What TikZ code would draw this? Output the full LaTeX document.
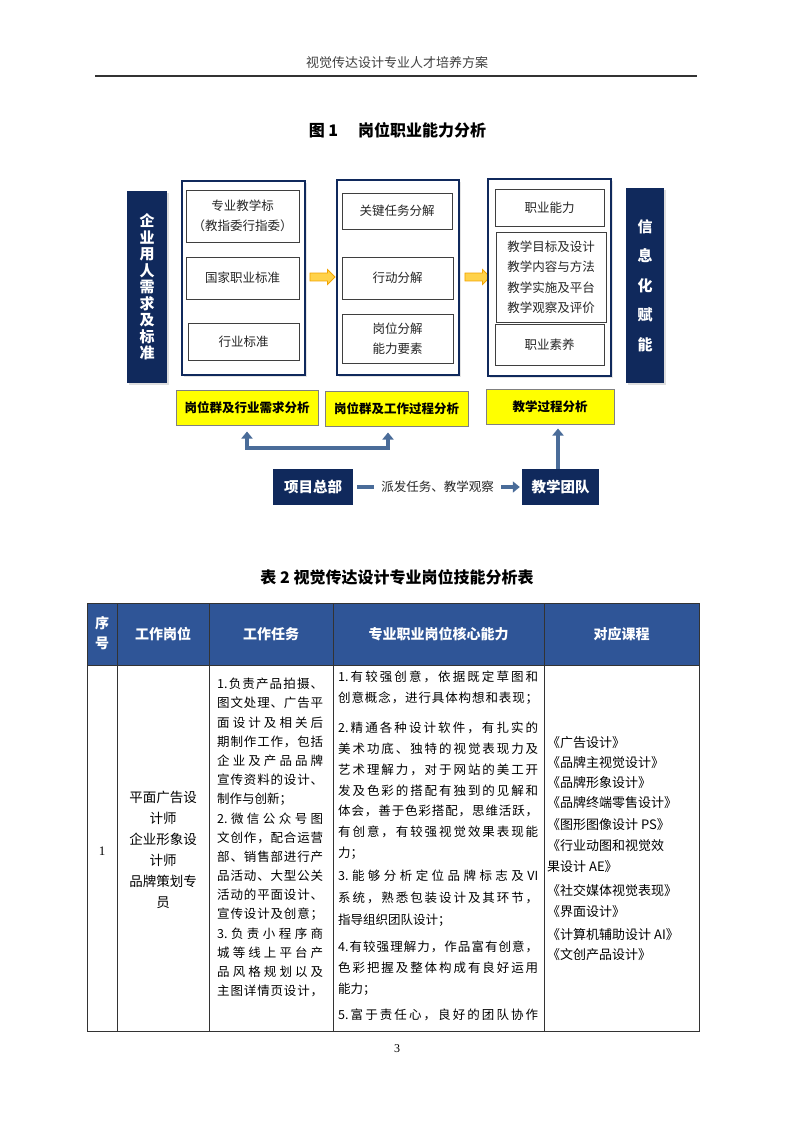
\documentclass[tikz,border=0pt]{standalone}
\usepackage{fontspec}
\setmainfont{Noto Sans CJK SC}
\newfontfamily\numfont{Liberation Serif}
\usetikzlibrary{arrows.meta,shapes.arrows,shadows,calc}
\definecolor{navy}{HTML}{10295C}
\definecolor{steel}{HTML}{4A6C99}
\definecolor{headblue}{HTML}{2F5597}
\definecolor{boxedge}{HTML}{3F3F3F}
\definecolor{inktext}{HTML}{262626}
\definecolor{arrowfill}{HTML}{FFD24A}
\definecolor{arrowedge}{HTML}{F2A400}
\definecolor{markyellow}{HTML}{FFFF00}
% spread the characters of one line over a fixed width
\def\sprA#1#2\sprEnd{#1\ifx\empty#2\else\hfill\sprA#2\sprEnd\fi}
\newcommand{\spreadline}[2]{\makebox[#1][s]{\sprA#2\empty\sprEnd}}

\begin{document}
\begin{tikzpicture}[x=1pt, y=-1pt,
    every node/.style={inner sep=0pt, text=inktext},
    navybar/.style={fill=navy, text=white, align=center,
      drop shadow={shadow xshift=1.5pt, shadow yshift=-1.5pt, fill=black!25}},
    colbox/.style={draw=navy, line width=1.2pt, fill=white,
      drop shadow={shadow xshift=1.5pt, shadow yshift=-1.5pt, fill=black!20}},
    itembox/.style={draw=boxedge, line width=0.7pt, fill=white, align=center,
      font=\fontsize{12.5}{20.5}\selectfont},
    anabox/.style={draw=black!50, line width=1pt, fill=markyellow, text=black,
      font=\bfseries\fontsize{12.5}{15}\selectfont},
    teambox/.style={fill=navy, text=white, font=\bfseries\fontsize{14.5}{16}\selectfont},
    moveon/.style={single arrow, draw=arrowedge, fill=arrowfill, line width=0.8pt,
      inner xsep=0pt, inner ysep=3.5pt, minimum height=25pt, minimum width=15pt,
      single arrow head extend=3.5pt},
    flow/.style={draw=steel, line width=3.5pt},
    grid/.style={draw=black!80, line width=0.9pt},
    headtext/.style={text=white, font=\bfseries\fontsize{14}{16}\selectfont},
    cell/.style={anchor=west, text=black, font=\fontsize{12.5}{15}\selectfont},
    course/.style={anchor=west, text=black, font=\fontsize{13}{15}\selectfont}]

    \fill[white] (0,0) rectangle (793,1122);
    \useasboundingbox (0,0) rectangle (793,1122);

    % Page head
    \node[text=black!75, font=\fontsize{13}{15}\selectfont] (pagehead) at (397,63) {视觉传达设计专业人才培养方案};
    \draw[line width=1.5pt, black!80] (95,76) -- (697,76);
    \node[text=black, font=\bfseries\fontsize{16}{18}\selectfont] (figtitle) at (397.5,130) {图 1\hspace{20pt}岗位职业能力分析};

    % Side bars
    \node[navybar, minimum width=40pt, minimum height=192pt, font=\bfseries\fontsize{15}{16.5}\selectfont] (demand) at (147,287)
        {企\\业\\用\\人\\需\\求\\及\\标\\准};
    \node[navybar, minimum width=38pt, minimum height=195pt, font=\bfseries\fontsize{15}{29.5}\selectfont] (digital) at (645,285.5)
        {信\\息\\化\\赋\\能};

    % Column 1
    \node[colbox, minimum width=123pt, minimum height=194pt] (std) at (243.5,278) {};
    \node[itembox, minimum width=113pt, minimum height=52pt] (teach) at (242.5,216) {专业教学标\\（教指委行指委）};
    \node[itembox, minimum width=113pt, minimum height=42pt] (nation) at (242.5,278) {国家职业标准};
    \node[itembox, minimum width=111pt, minimum height=37pt] (trade) at (243.5,341.5) {行业标准};
    \node[moveon] (go1) at (320.5,277) {};

    % Column 2
    \node[colbox, minimum width=122pt, minimum height=195pt] (task) at (398,277.5) {};
    \node[itembox, minimum width=110pt, minimum height=36pt] (keytask) at (397,211) {关键任务分解};
    \node[itembox, minimum width=111pt, minimum height=42pt] (action) at (397.5,278) {行动分解};
    \node[itembox, minimum width=111pt, minimum height=49pt] (post) at (397.5,338.5) {岗位分解\\能力要素};
    \node[moveon] (go2) at (475.5,277) {};

    % Column 3
    \node[colbox, minimum width=123pt, minimum height=197pt] (teachproc) at (549.5,277.5) {};
    \node[itembox, minimum width=109pt, minimum height=37pt] (ability) at (549.5,207.5) {职业能力};
    \node[itembox, minimum width=110pt, minimum height=90pt] (design) at (551,277)
        {教学目标及设计\\教学内容与方法\\教学实施及平台\\教学观察及评价};
    \node[itembox, minimum width=109pt, minimum height=41pt] (quality) at (549.5,344.5) {职业素养};

    % Analysis steps
    \node[anabox, minimum width=142pt, minimum height=35pt] (need) at (247,407.5) {岗位群及行业需求分析};
    \node[anabox, minimum width=143pt, minimum height=35pt] (work) at (396.5,408.5) {岗位群及工作过程分析};
    \node[anabox, minimum width=128pt, minimum height=35pt] (process) at (550,406.5) {教学过程分析};

    % Project office and team
    \node[teambox, minimum width=80pt, minimum height=36pt] (hq) at (313,487) {项目总部};
    \node[teambox, minimum width=77pt, minimum height=36pt] (team) at (560.5,487) {教学团队};
    \coordinate (fork) at (318,448);

    \draw[flow, shorten <=4pt, shorten >=2pt, -{Triangle[length=7pt,width=11pt]}] (hq) --
        node[fill=white, inner xsep=7pt, inner ysep=3pt, font=\fontsize{12.5}{15}\selectfont] (dispatch) {派发任务、教学观察} (team);
    \draw[flow, {Triangle[length=7pt,width=11pt]}-{Triangle[length=7pt,width=11pt]}]
        ($(need.south)+(0,6)$) |- (fork) -| ($(work.south)+(-8.5,6)$);
    \draw[flow, -{Triangle[length=7pt,width=11pt]}] ($(team.north)+(-2.5,0)$) -- ($(team.north |- process.south)+(-2.5,4)$);

    % Table 2
    \node[text=black, font=\bfseries\fontsize{16}{18}\selectfont] (tabtitle) at (397,577) {表 2 视觉传达设计专业岗位技能分析表};
    \fill[headblue] (87,603) rectangle (699,665);
    \draw[grid] (87,603) rectangle (699,1031);
    \draw[grid] (87,665) -- (699,665);
    \draw[grid] (117,603) -- (117,1031);
    \draw[grid] (209,603) -- (209,1031);
    \draw[grid] (333,603) -- (333,1031);
    \draw[grid] (544,603) -- (544,1031);

    \node[headtext] (hno1) at (102,623) {序};
    \node[headtext] (hno2) at (102,643) {号};
    \node[headtext] (hpost) at (163,634) {工作岗位};
    \node[headtext] (htask) at (271,634) {工作任务};
    \node[headtext] (hcore) at (438.5,634) {专业职业岗位核心能力};
    \node[headtext] (hcourse) at (621.5,634) {对应课程};

    \node[text=black, font=\numfont\fontsize{13}{15}\selectfont] (rowno) at (102,851) {1};
    \node[text=black, align=center, font=\fontsize{13.5}{21}\selectfont] (job) at (163,849.5)
        {平面广告设\\计师\\企业形象设\\计师\\品牌策划专\\员};

    % Work tasks
    \node[cell] (task1) at (217,684) {\spreadline{106pt}{{1.}负责产品拍摄、}};
    \node[cell] (task2) at (217,703.2) {\spreadline{106pt}{图文处理、广告平}};
    \node[cell] (task3) at (217,722.4) {\spreadline{106pt}{面设计及相关后}};
    \node[cell] (task4) at (217,741.6) {\spreadline{106pt}{期制作工作，包括}};
    \node[cell] (task5) at (217,760.8) {\spreadline{106pt}{企业及产品品牌}};
    \node[cell] (task6) at (217,780) {\spreadline{106pt}{宣传资料的设计、}};
    \node[cell] (task7) at (217,799.2) {制作与创新；};
    \node[cell] (task8) at (217,818.4) {\spreadline{106pt}{{2.}微信公众号图}};
    \node[cell] (task9) at (217,837.6) {\spreadline{106pt}{文创作，配合运营}};
    \node[cell] (task10) at (217,856.8) {\spreadline{106pt}{部、销售部进行产}};
    \node[cell] (task11) at (217,876) {\spreadline{106pt}{品活动、大型公关}};
    \node[cell] (task12) at (217,895.2) {\spreadline{106pt}{活动的平面设计、}};
    \node[cell] (task13) at (217,914.4) {\spreadline{106pt}{宣传设计及创意；}};
    \node[cell] (task14) at (217,933.6) {\spreadline{106pt}{{3.}负责小程序商}};
    \node[cell] (task15) at (217,952.8) {\spreadline{106pt}{城等线上平台产}};
    \node[cell] (task16) at (217,972) {\spreadline{106pt}{品风格规划以及}};
    \node[cell] (task17) at (217,991.2) {\spreadline{106pt}{主图详情页设计，}};

    % Core abilities
    \node[cell] (core1) at (338,677) {\spreadline{200pt}{{1.}有较强创意，依据既定草图和}};
    \node[cell] (core2) at (338,698) {\spreadline{200pt}{创意概念，进行具体构想和表现；}};
    \node[cell] (core3) at (338,728) {\spreadline{200pt}{{2.}精通各种设计软件，有扎实的}};
    \node[cell] (core4) at (338,749) {\spreadline{200pt}{美术功底、独特的视觉表现力及}};
    \node[cell] (core5) at (338,770) {\spreadline{200pt}{艺术理解力，对于网站的美工开}};
    \node[cell] (core6) at (338,790.5) {\spreadline{200pt}{发及色彩的搭配有独到的见解和}};
    \node[cell] (core7) at (338,811) {\spreadline{200pt}{体会，善于色彩搭配，思维活跃，}};
    \node[cell] (core8) at (338,832) {\spreadline{200pt}{有创意，有较强视觉效果表现能}};
    \node[cell] (core9) at (338,853) {力；};
    \node[cell] (core10) at (338,876) {\spreadline{200pt}{{3.}能够分析定位品牌标志及{VI}}};
    \node[cell] (core11) at (338,898) {\spreadline{200pt}{系统，熟悉包装设计及其环节，}};
    \node[cell] (core12) at (338,920) {指导组织团队设计；};
    \node[cell] (core13) at (338,947) {\spreadline{200pt}{{4.}有较强理解力，作品富有创意，}};
    \node[cell] (core14) at (338,968) {\spreadline{200pt}{色彩把握及整体构成有良好运用}};
    \node[cell] (core15) at (338,989) {能力；};
    \node[cell] (core16) at (338,1015) {\spreadline{200pt}{{5.}富于责任心，良好的团队协作}};

    % Courses
    \node[course] (c1) at (547,743) {《广告设计》};
    \node[course] (c2) at (547,763) {《品牌主视觉设计》};
    \node[course] (c3) at (547,783) {《品牌形象设计》};
    \node[course] (c4) at (547,803) {《品牌终端零售设计》};
    \node[course] (c5) at (547,825) {《图形图像设计 PS》};
    \node[course] (c6) at (547,846) {《行业动图和视觉效};
    \node[course] (c7) at (547,867) {果设计 AE》};
    \node[course] (c8) at (547,891) {《社交媒体视觉表现》};
    \node[course] (c9) at (547,912) {《界面设计》};
    \node[course] (c10) at (547,935) {《计算机辅助设计 AI》};
    \node[course] (c11) at (547,955) {《文创产品设计》};

    % Page number
    \node[text=black, font=\numfont\fontsize{12}{14}\selectfont] (pageno) at (397,1049) {3};
\end{tikzpicture}
\end{document}
